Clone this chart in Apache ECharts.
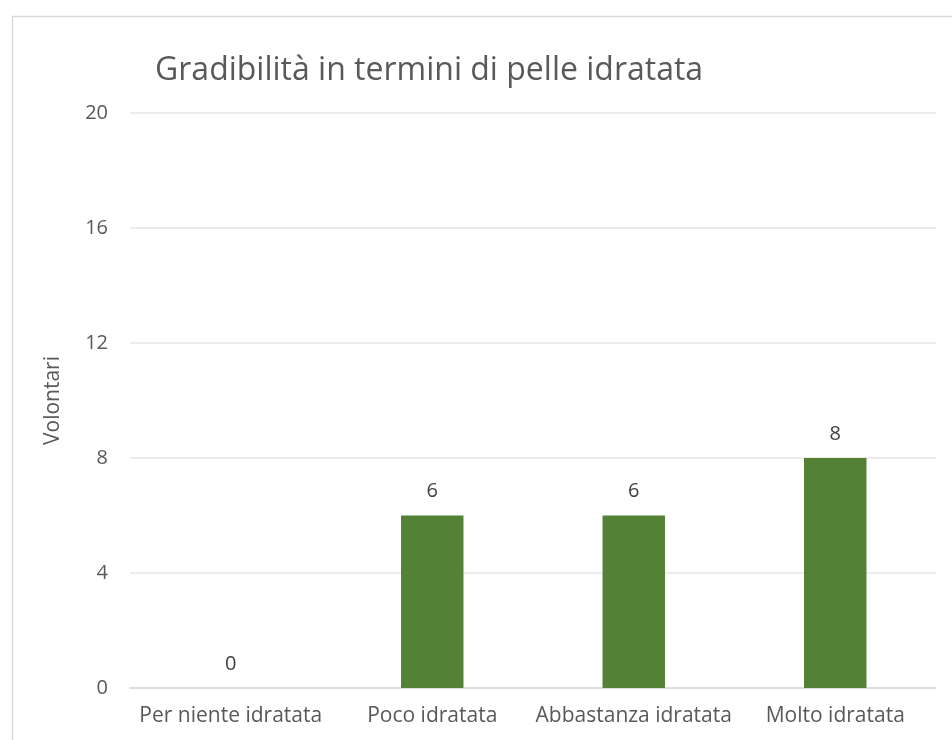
<!DOCTYPE html>
<html><head><meta charset="utf-8">
<script src="https://cdn.jsdelivr.net/npm/echarts@6/dist/echarts.min.js"></script>
<style>html,body{margin:0;padding:0;background:#fff}#c{width:952px;height:740px}</style>
</head><body><div id="c"></div>
<script>
const categories = ['Per niente idratata', 'Poco idratata', 'Abbastanza idratata', 'Molto idratata'];
const values = [0, 6, 6, 8];
const titleText = 'Gradibilità in termini di pelle idratata';
const yName = 'Volontari';

const chart = echarts.init(document.getElementById('c'));
const FONT = 'Open Sans';
chart.setOption({
  backgroundColor: '#fff',
  animation: false,
  graphic: [{
    type: 'rect', left: 10, top: 14,
    shape: { width: 1000, height: 800 },
    style: { fill: 'none', stroke: '#d9d9d9', lineWidth: 1.5 },
    silent: true
  }],
  title: {
    text: titleText, left: 150, top: 50,
    textStyle: { fontFamily: FONT, fontSize: 32, fontWeight: 'normal', color: '#595959' }
  },
  grid: { left: 130, right: 16, top: 113, bottom: 52 },
  xAxis: {
    type: 'category', data: categories,
    axisLine: { lineStyle: { color: '#d9d9d9', width: 1.5 } },
    axisTick: { show: false },
    axisLabel: { fontFamily: FONT, fontSize: 21, color: '#595959', margin: 18, interval: 0 }
  },
  yAxis: {
    type: 'value', min: 0, max: 20, interval: 4,
    name: yName, nameLocation: 'middle', nameGap: 66, nameRotate: 90,
    nameTextStyle: { fontFamily: FONT, fontSize: 21, color: '#595959' },
    axisLine: { show: false }, axisTick: { show: false },
    axisLabel: { fontFamily: FONT, fontSize: 20, color: '#595959', margin: 22 },
    splitLine: { lineStyle: { color: '#e6e6e6', width: 1.5 } }
  },
  series: [{
    type: 'bar', data: values, barWidth: '31%',
    itemStyle: { color: '#538135' },
    label: { show: true, position: 'top', distance: 14, fontFamily: FONT, fontSize: 20, color: '#404040' }
  }]
});
</script></body></html>
